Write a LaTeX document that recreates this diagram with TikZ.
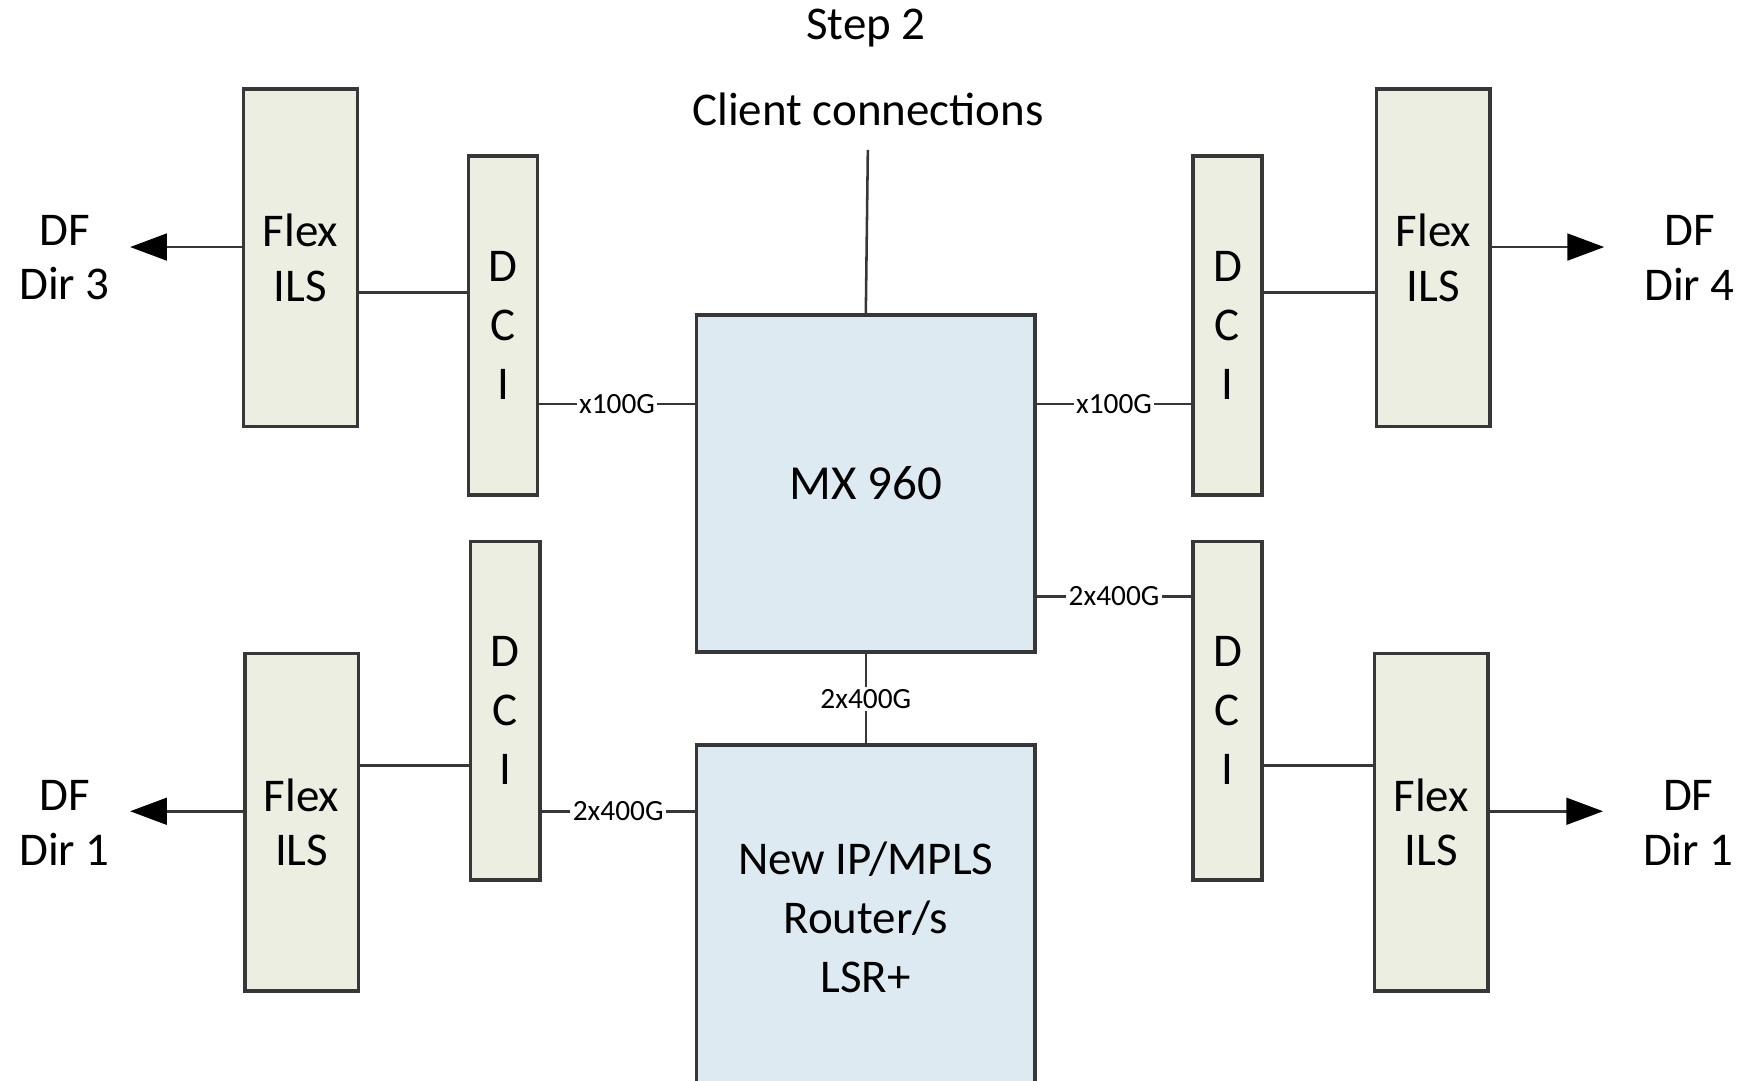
\documentclass[tikz,border=0pt]{standalone}
\usepackage{fontspec}
\setmainfont{Carlito}
\usetikzlibrary{arrows.meta}
\definecolor{ilsfill}{RGB}{235,238,224}
\definecolor{mxfill}{RGB}{222,234,241}
\definecolor{edge}{RGB}{55,55,55}

\begin{document}
\begin{tikzpicture}[x=0.01cm,y=-0.01cm,
  box/.style={rectangle,draw=edge,line width=0.9pt,fill=ilsfill,minimum width=1.02cm,minimum height=3.03cm,align=center,inner sep=0pt,font=\fontsize{12}{14}\selectfont},
  dci/.style={box,minimum width=0.62cm,minimum height=3.04cm,font=\fontsize{12}{15}\selectfont},
  router/.style={box,fill=mxfill,minimum width=3.04cm,minimum height=3.03cm,font=\fontsize{12}{15}\selectfont},
  txt/.style={align=center,inner sep=2pt,font=\fontsize{12}{14}\selectfont},
  lbl/.style={fill=white,inner sep=0.6pt,font=\fontsize{7.5}{8}\selectfont},
  link/.style={draw=edge,line width=0.65pt},
  dfarrow/.style={link,-{Triangle[length=3.3mm,width=2.4mm,color=black]},shorten >=3pt}]
    \useasboundingbox (0,0) rectangle (1568,971);
    \clip (0,0) rectangle (1568,971);

    % centre
    \node[txt] (step) at (778,25) {Step 2};
    \node[txt] (cc) at (780,98) {Client connections};
    \node[router,font=\fontsize{12.5}{15}\selectfont] (mx) at (778,434.5) {MX 960};
    \node[router,minimum height=3.1cm] (lsr) at (778,824.5) {New IP/MPLS\\Router/s\\LSR+};

    % left side
    \node[box] (flex3) at (270,231.5) {Flex\\ILS};
    \node[dci] (dci3) at (452,292.5) {D\\C\\I};
    \node[txt] (df3) at (58,231.5) {DF\\Dir 3};
    \node[box] (flex1) at (271,739) {Flex\\ILS};
    \node[dci] (dci1) at (454,638.5) {D\\C\\I};
    \node[txt] (df1) at (58,739.5) {DF\\Dir 1};

    % right side
    \node[box] (flex4) at (1288,231.5) {Flex\\ILS};
    \node[dci] (dci4) at (1103,292.5) {D\\C\\I};
    \node[txt] (df4) at (1518,231.5) {DF\\Dir 4};
    \node[box] (flex2) at (1286,739) {Flex\\ILS};
    \node[dci] (dci2) at (1103,638.5) {D\\C\\I};
    \node[txt] (df2) at (1517,739.5) {DF\\Dir 1};

    % connections
    \draw[link,shorten >=4pt] (mx.north) -- (cc.south);
    \draw[link] (mx.south) -- node[lbl] {2x400G} (lsr.north);
    \draw[link] (dci3.east |- 0,363) -- node[lbl] {x100G} (mx.west |- 0,363);
    \draw[link] (mx.east |- 0,363) -- node[lbl] {x100G} (dci4.west |- 0,363);
    \draw[link] (mx.east |- 0,536) -- node[lbl] {2x400G} (dci2.west |- 0,536);
    \draw[link] (dci1.east |- 0,729) -- node[lbl] {2x400G} (lsr.west |- 0,729);

    \draw[link] (flex3.east |- 0,263) -- (dci3.west |- 0,263);
    \draw[link] (dci4.east |- 0,263) -- (flex4.west |- 0,263);
    \draw[link] (flex1.east |- 0,688) -- (dci1.west |- 0,688);
    \draw[link] (dci2.east |- 0,688) -- (flex2.west |- 0,688);

    \draw[dfarrow] (flex3.west |- 0,222) -- (df3.east |- 0,222);
    \draw[dfarrow,shorten >=8pt] (flex4.east |- 0,222) -- (df4.west |- 0,222);
    \draw[dfarrow] (flex1.west |- 0,729) -- (df1.east |- 0,729);
    \draw[dfarrow,shorten >=8pt] (flex2.east |- 0,729) -- (df2.west |- 0,729);
\end{tikzpicture}
\end{document}
